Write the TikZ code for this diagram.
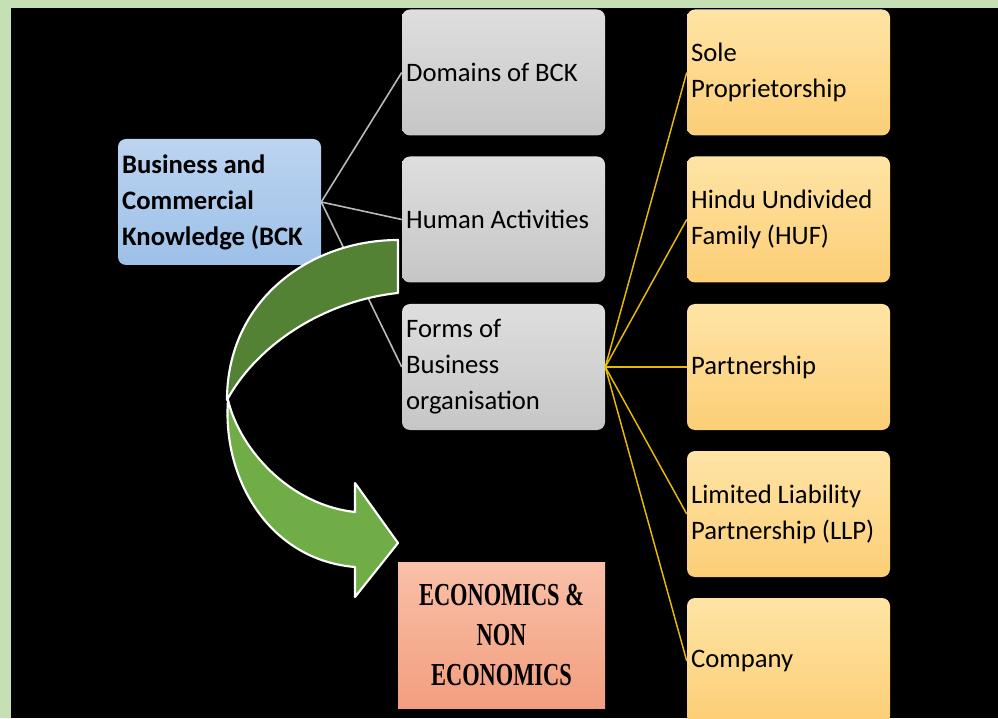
\documentclass[tikz,border=0pt]{standalone}
\usepackage{fontspec}
\setmainfont{Carlito}
\newfontfamily\econfont[FakeStretch=0.7]{Liberation Serif}
\usetikzlibrary{positioning}

\definecolor{pagegreen}{RGB}{197,224,180}
\definecolor{bluetop}{RGB}{188,212,240}
\definecolor{bluebot}{RGB}{157,192,232}
\definecolor{graytop}{RGB}{222,222,222}
\definecolor{graybot}{RGB}{198,198,198}
\definecolor{orgtop}{RGB}{255,228,165}
\definecolor{orgbot}{RGB}{252,206,118}
\definecolor{salmtop}{RGB}{249,192,168}
\definecolor{salmbot}{RGB}{242,158,126}
\definecolor{arrdark}{RGB}{84,130,53}
\definecolor{arrlight}{RGB}{112,173,71}
\definecolor{linkgray}{RGB}{185,185,185}
\definecolor{linkgold}{RGB}{232,186,0}

\begin{document}
\begin{tikzpicture}[x=0.75pt,y=0.75pt,
  box/.style={rounded corners=6pt,minimum width=152.25pt,minimum height=94.5pt,
    text width=146pt,align=left,inner sep=3pt,
    font=\fontsize{20}{27}\selectfont,text=black,
    execute at begin node={\spaceskip=0.22em\relax}},
  bckbox/.style={box,top color=bluetop,bottom color=bluebot,
    font=\fontsize{20}{27}\selectfont\bfseries},
  graybox/.style={box,top color=graytop,bottom color=graybot},
  orgbox/.style={box,top color=orgtop,bottom color=orgbot},
  econbox/.style={minimum width=155.25pt,minimum height=109.5pt,
    top color=salmtop,bottom color=salmbot,align=center,
    font=\econfont\fontsize{24}{30}\selectfont\bfseries},
  glink/.style={draw=linkgray,line width=1.2pt},
  ylink/.style={draw=linkgold,line width=1.1pt},
  curvearrow/.style={draw=white,line width=1.6pt,line join=round}]

\useasboundingbox (0,0) rectangle (998,718);
\fill[pagegreen] (0,0) rectangle (998,718);
\fill[black] (11,0) rectangle (998,710);

\begin{scope}
\clip (11,0) rectangle (998,710);

% left column
\node[bckbox] (bck) at (219.5,516) {Business and\\Commercial\\Knowledge (BCK};

% middle column
\node[graybox] (dom) at (503.5,645.5) {Domains of BCK};
\node[graybox] (hum) at (503.5,498.5) {Human Activities};
\node[graybox] (forms) at (503.5,351) {Forms of\\Business\\organisation};
\node[econbox] (econ) at (501.5,83) {ECONOMICS \&\\NON\\ECONOMICS};

\foreach \nm in {dom,hum,forms}
  \draw[glink] (bck.east) -- (\nm.west);

% right column
\foreach \nm/\yy/\txt in {sole/645.5/{Sole\\Proprietorship},
    huf/498.5/{Hindu Undivided\\Family (HUF)},
    part/351/{Partnership},
    llp/204/{Limited Liability\\Partnership (LLP)},
    comp/57/{Company}}
{
  \node[orgbox] (\nm) at (788.5,\yy) {\txt};
  \draw[ylink] (forms.east) -- (\nm.west);
}

% curved arrow, back half then front half
\filldraw[fill=arrdark,curvearrow] (398,478)
  .. controls (310,478) and (227,418) .. (227,318)
  .. controls (260,378) and (330,418) .. (398,425) -- cycle;
\filldraw[fill=arrlight,curvearrow] (228,318)
  .. controls (222,238) and (270,158) .. (355,151)
  -- (355,121) -- (398,175) -- (355,235) -- (355,206)
  .. controls (290,213) and (240,268) .. (228,318) -- cycle;
\end{scope}
\end{tikzpicture}
\end{document}
